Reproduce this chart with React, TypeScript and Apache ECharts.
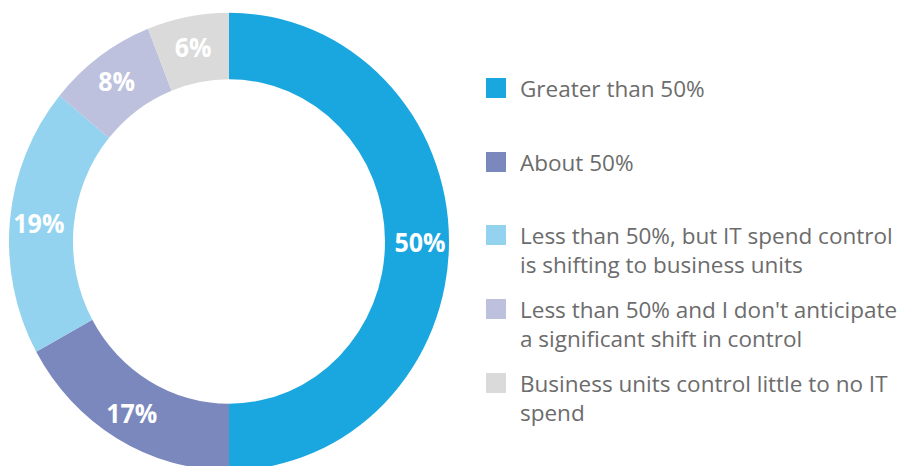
import React, { useEffect, useRef } from "react";
import * as echarts from "echarts";

const categories = [
  "Greater than 50%",
  "About 50%",
  "Less than 50%, but IT spend control\nis shifting to business units",
  "Less than 50% and I don't anticipate\na significant shift in control",
  "Business units control little to no IT\nspend",
];
const values = [50, 17, 19, 8, 6];
const colors = ["#1aa7df", "#7b88bd", "#93d3ef", "#bdc1de", "#dadada"];
const legendIconCenters = [88, 162, 235, 309, 383];

export default function App() {
  const legendRef = useRef<HTMLDivElement>(null);
  const pieRef = useRef<HTMLDivElement>(null);
  useEffect(() => {
    if (!legendRef.current || !pieRef.current) return;
    const seriesData = categories.map((name, i) => ({ name, value: values[i] }));
    const lineH = 29;

    const legendChart = echarts.init(legendRef.current, undefined, { renderer: "svg" });
    const legends = categories.map((name, i) => {
      const multi = name.includes("\n");
      return {
        data: [name],
        orient: "vertical",
        left: 486,
        top: multi ? legendIconCenters[i] - 1.5 * lineH : legendIconCenters[i] - 0.5 * lineH,
        padding: 0,
        icon: "rect",
        itemWidth: 20,
        itemHeight: 20,
        selectedMode: false,
        formatter: (n: string) => (n.includes("\n") ? "\n" + n : n),
        textStyle: {
          fontFamily: "Open Sans",
          fontSize: 22.5,
          color: "#6c6c6c",
          lineHeight: lineH,
          padding: [0, 0, 0, 9],
        },
      };
    });
    legendChart.setOption({
      animation: false,
      color: colors,
      legend: legends,
      series: [
        {
          type: "pie",
          center: [-500, -500],
          radius: [0, 1],
          silent: true,
          label: { show: false },
          labelLine: { show: false },
          data: seriesData,
        },
      ],
    });

    const pieChart = echarts.init(pieRef.current, undefined, { renderer: "svg" });
    pieChart.setOption({
      animation: false,
      color: colors,
      series: [
        {
          type: "pie",
          center: [229, 232.2],
          radius: [156, 220],
          startAngle: 90,
          clockwise: true,
          avoidLabelOverlap: false,
          label: {
            show: true,
            position: "inside",
            formatter: "{c}%",
            color: "#ffffff",
            fontFamily: "Open Sans",
            fontWeight: "bold",
            fontSize: 25,
          },
          labelLine: { show: false },
          emphasis: { disabled: true },
          data: seriesData,
        },
      ],
    });
    return () => {
      legendChart.dispose();
      pieChart.dispose();
    };
  }, []);
  return (
    <div style={{ position: "fixed", left: 0, top: 0, width: 902, height: 466, background: "#fff", overflow: "hidden" }}>
      <div ref={legendRef} style={{ position: "absolute", left: 0, top: 0, width: 902, height: 466 }} />
      <div
        ref={pieRef}
        style={{
          position: "absolute",
          left: 0,
          top: 0,
          width: 460,
          height: 466,
          transform: "scaleY(1.04)",
          transformOrigin: "0 0",
        }}
      />
    </div>
  );
}
